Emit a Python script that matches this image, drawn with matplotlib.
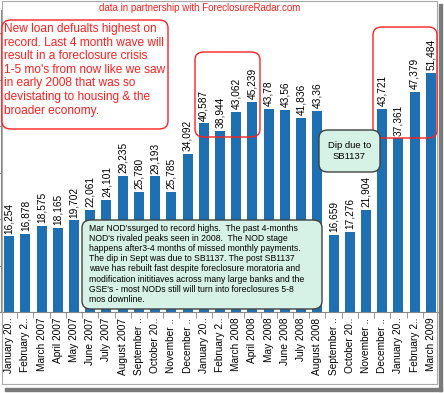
import matplotlib

matplotlib.use("Agg")
import matplotlib.pyplot as plt
from matplotlib.patches import FancyBboxPatch, Rectangle

plt.rcParams["font.family"] = ["Liberation Sans", "DejaVu Sans"]

months = [
    "January 20..", "February 2..", "March 2007", "April 2007", "May 2007",
    "June 2007", "July 2007", "August 2007", "September ..", "October 20..",
    "November ..", "December ..", "January 20..", "February 2..", "March 2008",
    "April 2008", "May 2008", "June 2008", "July 2008", "August 2008",
    "September ..", "October 20..", "November ..", "December ..", "January 20..",
    "February 2..", "March 2009",
]
nods = [
    16254, 16878, 18575, 18165, 19702, 22061, 24101, 29235, 25780, 29193,
    25785, 34092, 40587, 38944, 43062, 45239, 43780, 43560, 41836, 43360,
    16659, 17276, 21904, 43721, 37361, 47379, 51484,
]
# value labels as printed on the chart (some are cut short there)
value_labels = [
    "16,254", "16,878", "18,575", "18,165", "19,702", "22,061", "24,101",
    "29,235", "25,780", "29,193", "25,785", "34,092", "40,587", "38,944",
    "43,062", "45,239", "43,78", "43,56", "41,836", "43,36", "16,659",
    "17,276", "21,904", "43,721", "37,361", "47,379", "51,484",
]

W, H = 444, 393
BLUE = "#1f70b3"
RED = "#ff2020"
GREEN = "#d6f1e5"

fig = plt.figure(figsize=(W / 100, H / 100), dpi=100)


def px(x0, y0, x1, y1):
    """pixel box (top-left origin) -> figure fraction rect"""
    return [x0 / W, 1 - y1 / H, (x1 - x0) / W, (y1 - y0) / H]


ax = fig.add_axes(px(1, 10, 439, 312))
x = list(range(len(nods)))
ax.bar(x, nods, width=0.62, color=BLUE, zorder=2)
for xi, v, lab in zip(x, nods, value_labels):
    ax.annotate(lab, (xi, v), xytext=(0, 2), textcoords="offset points",
                rotation=90, ha="center", va="bottom", fontsize=7.3)

ax.set_xlim(-0.5, len(nods) - 0.5)
ax.set_ylim(0, 65000)
ax.set_xticks(x)
ax.set_xticklabels(months, rotation=90, fontsize=7.3)
ax.tick_params(axis="x", length=0, pad=4)
ax.set_xticks([i + 0.5 for i in x[:-1]], minor=True)
ax.tick_params(axis="x", which="minor", length=4, color="#888888")
ax.set_yticks(range(0, 65000, 10000))
ax.set_yticklabels([])
ax.tick_params(axis="y", length=3, color="#888888")
for s in ("top", "right"):
    ax.spines[s].set_visible(False)
for s in ("left", "bottom"):
    ax.spines[s].set_color("#888888")
ax.patch.set_alpha(0)

# frame with a drop shadow on the right and bottom
fig.patches.append(Rectangle(((5) / W, 1 - 391 / H), 437 / W, 3 / H,
                             transform=fig.transFigure, color="#7a7a7a",
                             zorder=0))
fig.patches.append(Rectangle((439 / W, 1 - 391 / H), 3 / W, 387 / H,
                             transform=fig.transFigure, color="#7a7a7a",
                             zorder=0))
fig.patches.append(Rectangle((1.5 / W, 1 - 384 / H), 435.5 / W, 383 / H,
                             transform=fig.transFigure, fill=False,
                             ec="#a8a8a8", lw=0.8, zorder=5))

fig.text(200 / W, 1 - 8 / H, "data in partnership with ForeclosureRadar.com",
         color=RED, fontsize=7, ha="center", va="center")


def rbox(x0, y0, x1, y1, ec, fc, lw=1.0, z=6):
    b = FancyBboxPatch((x0 / W, 1 - y1 / H), (x1 - x0) / W, (y1 - y0) / H,
                       boxstyle="round,pad=0,rounding_size=0.02",
                       transform=fig.transFigure, ec=ec, fc=fc, lw=lw,
                       zorder=z)
    fig.patches.append(b)


# red call-outs
rbox(2, 20, 168, 129, RED, "white")
fig.text(4 / W, 1 - 23 / H,
         "New loan defualts highest on\nrecord. Last 4 month wave will\n"
         "result in a foreclosure crisis\n1-5 mo's from now like we saw\n"
         "in early 2008 that was so\ndevistating to housing & the\n"
         "broader economy.",
         color=RED, fontsize=8.6, ha="left", va="top", linespacing=1.18,
         zorder=7)
rbox(195, 52, 260, 137, RED, "none")
rbox(373, 27, 437, 138, RED, "none")

# green notes
rbox(319, 130, 380, 172, "#404040", GREEN)
fig.text(349.5 / W, 1 - 151 / H, "Dip due to\nSB1137", fontsize=6.8,
         ha="center", va="center", zorder=7)
rbox(82, 220, 322, 309, "#404040", GREEN)
fig.text(89 / W, 1 - 224 / H,
         "Mar NOD'ssurged to record highs.  The past 4-months\n"
         "NOD's rivaled peaks seen in 2008.  The NOD stage\n"
         "happens after3-4 months of missed monthly payments.\n"
         "The dip in Sept was due to SB1137. The post SB1137\n"
         "wave has rebuilt fast despite foreclosure moratoria and\n"
         "modification inititiaves across many large banks and the\n"
         "GSE's - most NODs still will turn into foreclosures 5-8\n"
         "mos downline.",
         fontsize=6.2, ha="left", va="top", linespacing=1.16, zorder=7)

fig.savefig("out.png", dpi=100)
